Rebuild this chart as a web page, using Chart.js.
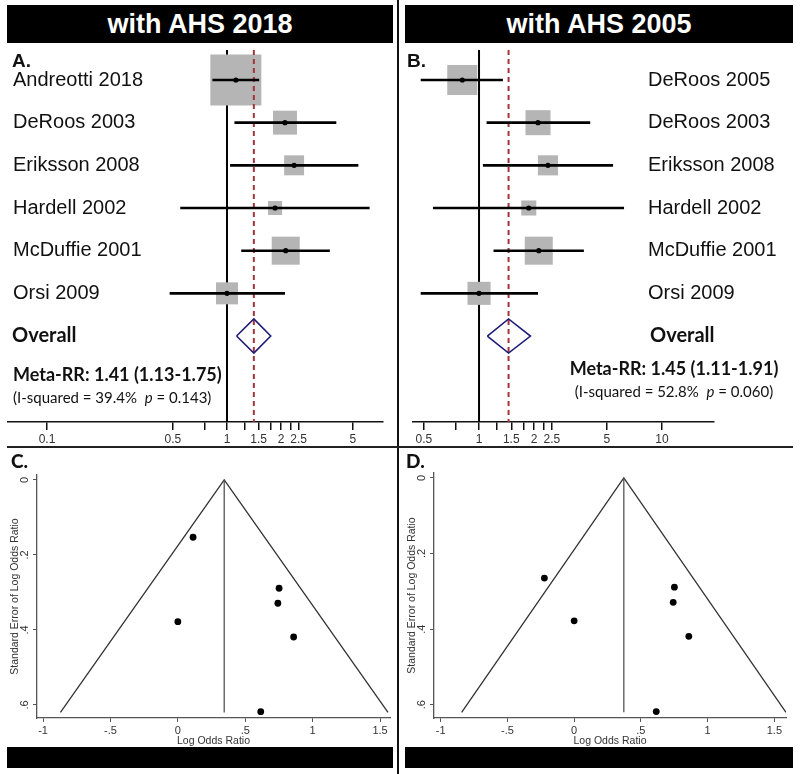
<!DOCTYPE html>
<html><head><meta charset="utf-8">
<script src="https://cdn.jsdelivr.net/npm/chart.js@4.4.1/dist/chart.umd.min.js"></script>
<style>
html,body{margin:0;padding:0;background:#fff;}
body{width:800px;height:774px;position:relative;overflow:hidden;font-family:'Liberation Sans',Arial,sans-serif;}
.abs{position:absolute;}
.hdr{background:#000;color:#fff;font-weight:bold;font-size:27px;text-align:center;line-height:38px;height:38px;top:5px;}
.bar{background:#000;height:21px;top:747px;}
.let1{font-weight:bold;font-size:19px;color:#111;}
.let2{font-family:Lato,'Open Sans',sans-serif;font-weight:900;font-size:19px;color:#111;}
canvas{position:absolute;}
</style>
</head><body>
<div class="abs hdr" style="left:7px;width:386px;">with AHS 2018</div>
<div class="abs hdr" style="left:405px;width:388px;">with AHS 2005</div>
<div class="abs" style="left:397px;top:0;width:2px;height:774px;background:#111;"></div>
<div class="abs" style="left:7px;top:446px;width:786px;height:2px;background:#222;"></div>
<div class="abs bar" style="left:7px;width:386px;"></div>
<div class="abs bar" style="left:405px;width:388px;"></div>

<canvas id="cA" width="390" height="403" style="left:7px;top:43px;"></canvas>
<canvas id="cB" width="397" height="403" style="left:400px;top:43px;"></canvas>
<canvas id="cC" width="397" height="299" style="left:0px;top:448px;"></canvas>
<canvas id="cD" width="400" height="299" style="left:400px;top:448px;"></canvas>

<div class="abs let1" style="left:12px;top:50px;">A.</div>
<div class="abs let1" style="left:407px;top:50px;">B.</div>
<div class="abs let2" style="left:11px;top:449px;">C.</div>
<div class="abs let2" style="left:406px;top:449px;">D.</div>

<script>
// ---------------- Panel A data (with AHS 2018) ----------------
const studiesA = ['Andreotti 2018','DeRoos 2003','Eriksson 2008','Hardell 2002','McDuffie 2001','Orsi 2009'];
const rrA      = [1.12, 2.10, 2.36, 1.85, 2.12, 1.00];
const lowerA   = [0.83, 1.10, 1.04, 0.55, 1.20, 0.48];
const upperA   = [1.51, 4.05, 5.37, 6.20, 3.73, 2.10];
const weightA  = [51.6, 11.4, 7.9, 3.9, 15.6, 9.6];
const pooledA  = [1.41, 1.13, 1.75];
const iSquaredA = '39.4%';
const pHetA     = '0.143';
const ticksA      = [0.1, 0.5, 0.75, 1, 1.25, 1.5, 1.75, 2, 2.25, 2.5, 5];
const tickLabelsA = ['0.1','0.5','','1','','1.5','','2','','2.5','5'];

// ---------------- Panel B data (with AHS 2005) ----------------
const studiesB = ['DeRoos 2005','DeRoos 2003','Eriksson 2008','Hardell 2002','McDuffie 2001','Orsi 2009'];
const rrB      = [0.81, 2.10, 2.38, 1.87, 2.12, 1.00];
const lowerB   = [0.48, 1.10, 1.05, 0.56, 1.20, 0.48];
const upperB   = [1.35, 4.05, 5.40, 6.20, 3.74, 2.10];
const weightB  = [26.0, 18.0, 11.6, 6.5, 22.6, 15.3];
const pooledB  = [1.45, 1.11, 1.91];
const iSquaredB = '52.8%';
const pHetB     = '0.060';
const ticksB      = [0.5, 0.75, 1, 1.25, 1.5, 1.75, 2, 2.25, 2.5, 5, 10];
const tickLabelsB = ['0.5','','1','','1.5','','2','','2.5','5','10'];

// ---------------- Funnel C (with AHS 2018) ----------------
const funnelC_logOR = [0.113, 0.742, 0.859, 0.615, 0.751, 0.000];
const funnelC_se    = [0.153, 0.329, 0.419, 0.618, 0.289, 0.378];
const funnelC_limX  = [-0.871, 0.344, 1.559];
const funnelC_limY  = [0.62, 0, 0.62];
// ---------------- Funnel D (with AHS 2005) ----------------
const funnelD_logOR = [-0.223, 0.742, 0.859, 0.615, 0.751, 0.000];
const funnelD_se    = [0.265, 0.329, 0.419, 0.618, 0.289, 0.378];
const funnelD_limX  = [-0.843, 0.372, 1.587];
const funnelD_limY  = [0.62, 0, 0.62];
const funnelTicksX  = [-1, -0.5, 0, 0.5, 1, 1.5];
const funnelLabelsX = ['-1','-.5','0','.5','1','1.5'];
const funnelTicksY  = [0, 0.2, 0.4, 0.6];
const funnelLabelsY = ['0','.2','.4','.6'];

const LABEL_FONT = '"Liberation Sans", Arial, sans-serif';
const BOLD2 = 'Lato, "Open Sans", sans-serif';

function drawRuns(ctx, parts, x, y, align) {
  const widths = parts.map(p => { ctx.font = p.f; return ctx.measureText(p.t).width; });
  const total = widths.reduce((a, b) => a + b, 0);
  let cx = align === 'center' ? x - total / 2 : x;
  ctx.textAlign = 'left';
  parts.forEach((p, i) => { ctx.font = p.f; ctx.fillText(p.t, cx, y); cx += widths[i]; });
}

function forestChart(id, d, layout) {
  const yMin = -0.703, yMax = 8.015;
  const n = d.labels.length;
  const datasets = [];
  datasets.push({ data: [{x: 1, y: yMin}, {x: 1, y: yMax}], showLine: true, borderColor: '#000',
    borderWidth: 2, pointRadius: 0, order: 10 });
  datasets.push({ data: d.rr.map((v, i) => ({x: v, y: i})), pointStyle: 'rect',
    pointRadius: c => layout.boxScale * Math.sqrt(d.w[c.dataIndex] / 100) / Math.SQRT2,
    backgroundColor: '#b5b5b5', borderWidth: 0, order: 9 });
  datasets.push({ data: [{x: d.pooled[0], y: yMin}, {x: d.pooled[0], y: yMax}], showLine: true,
    borderColor: '#a3343c', borderWidth: 2, borderDash: [5, 4], pointRadius: 0, order: 8 });
  d.rr.forEach((v, i) => {
    datasets.push({ data: [{x: d.lo[i], y: i}, {x: d.hi[i], y: i}], showLine: true, borderColor: '#000',
      borderWidth: 2.6, pointRadius: 0, order: 5 });
  });
  const h = 0.4;
  datasets.push({ data: [{x: d.pooled[1], y: n}, {x: d.pooled[0], y: n - h}, {x: d.pooled[2], y: n},
      {x: d.pooled[0], y: n + h}, {x: d.pooled[1], y: n}], showLine: true, borderColor: '#1d1d78',
    borderWidth: 1.6, pointRadius: 0, order: 6 });
  datasets.push({ data: d.rr.map((v, i) => ({x: v, y: i})), pointRadius: 2.6, backgroundColor: '#000',
    borderWidth: 0, order: 1 });

  const txt = {
    id: 'forestText',
    afterDraw(chart) {
      const ctx = chart.ctx, ys = chart.scales.y;
      ctx.save();
      ctx.fillStyle = '#111';
      ctx.textBaseline = 'middle';
      ctx.textAlign = 'left';
      ctx.font = '20px ' + LABEL_FONT;
      d.labels.forEach((t, i) => ctx.fillText(t, layout.labelX, ys.getPixelForValue(i)));
      ctx.font = 'bold 20px ' + BOLD2;
      ctx.fillText('Overall', layout.overallX, ys.getPixelForValue(n));
      const meta = 'Meta-RR: ' + d.pooled[0].toFixed(2) + ' (' + d.pooled[1].toFixed(2) + '-' + d.pooled[2].toFixed(2) + ')';
      drawRuns(ctx, [{t: meta, f: 'bold 18px ' + BOLD2}], layout.metaX, ys.getPixelForValue(layout.metaRow), layout.metaAlign);
      drawRuns(ctx, [
        {t: '(I-squared = ' + d.isq + '  ', f: '15px ' + BOLD2},
        {t: 'p', f: 'italic 15px ' + BOLD2},
        {t: ' = ' + d.p + ')', f: '15px ' + BOLD2}
      ], layout.metaX, ys.getPixelForValue(layout.isqRow), layout.metaAlign);
      ctx.restore();
    }
  };

  return new Chart(document.getElementById(id), {
    type: 'scatter',
    data: { datasets },
    plugins: [txt],
    options: {
      responsive: false, animation: false,
      layout: { padding: layout.padding, autoPadding: false },
      plugins: { legend: { display: false }, tooltip: { enabled: false } },
      elements: { line: { tension: 0 } },
      scales: {
        x: {
          type: 'logarithmic', min: layout.xMin, max: layout.xMax,
          afterBuildTicks: s => { s.ticks = d.ticks.map(v => ({value: v})); },
          afterFit: s => { s.height = 24; },
          ticks: { autoSkip: false, maxRotation: 0, padding: 2, color: '#333',
            font: { family: LABEL_FONT, size: 12 },
            callback: (v, i) => d.tickLabels[i] },
          grid: { display: true, drawOnChartArea: false, drawTicks: true, tickLength: 8, color: '#111', lineWidth: 1.5 },
          border: { display: true, color: '#111', width: 1.6 }
        },
        y: { type: 'linear', display: false, min: yMin, max: yMax, reverse: true }
      }
    }
  });
}

function funnelChart(id, f, layout) {
  const datasets = [
    { data: f.limX.map((v, i) => ({x: v, y: f.limY[i]})), showLine: true, borderColor: '#333',
      borderWidth: 1.3, pointRadius: 0, order: 3 },
    { data: [{x: f.limX[1], y: f.limY[1]}, {x: f.limX[1], y: f.limY[0]}], showLine: true,
      borderColor: '#555', borderWidth: 1.3, pointRadius: 0, order: 2 },
    { data: f.x.map((v, i) => ({x: v, y: f.se[i]})), pointRadius: 3.4, backgroundColor: '#000',
      borderWidth: 0, order: 1 }
  ];
  return new Chart(document.getElementById(id), {
    type: 'scatter',
    data: { datasets },
    options: {
      responsive: false, animation: false,
      layout: { padding: layout.padding, autoPadding: false },
      plugins: { legend: { display: false }, tooltip: { enabled: false } },
      elements: { line: { tension: 0 } },
      scales: {
        x: {
          type: 'linear', min: layout.xMin, max: layout.xMax,
          afterBuildTicks: s => { s.ticks = funnelTicksX.map(v => ({value: v})); },
          afterFit: s => { s.height = 29; },
          ticks: { autoSkip: false, maxRotation: 0, padding: 2, color: '#333',
            font: { family: LABEL_FONT, size: 11 }, callback: (v, i) => funnelLabelsX[i] },
          grid: { display: true, drawOnChartArea: false, drawTicks: true, tickLength: 4, color: '#555', lineWidth: 1 },
          border: { display: true, color: '#555', width: 1.3 },
          title: { display: true, text: 'Log Odds Ratio', color: '#333', padding: {top: 0, bottom: 0},
            font: { family: LABEL_FONT, size: 10.5 } }
        },
        y: {
          type: 'linear', min: -0.013, max: 0.635, reverse: true,
          afterBuildTicks: s => { s.ticks = funnelTicksY.map(v => ({value: v})); },
          afterFit: s => { s.width = layout.yWidth; },
          ticks: { autoSkip: false, minRotation: 90, maxRotation: 90, crossAlign: 'center', padding: 3,
            color: '#333', font: { family: LABEL_FONT, size: 11 }, callback: (v, i) => funnelLabelsY[i] },
          grid: { display: true, drawOnChartArea: false, drawTicks: true, tickLength: 4, color: '#555', lineWidth: 1 },
          border: { display: true, color: '#555', width: 1.3 },
          title: { display: true, text: 'Standard Error of Log Odds Ratio', color: '#333',
            padding: {top: layout.titlePad, bottom: 0}, font: { family: LABEL_FONT, size: 10.5 } }
        }
      }
    }
  });
}

forestChart('cA',
  { labels: studiesA, rr: rrA, lo: lowerA, hi: upperA, w: weightA, pooled: pooledA,
    isq: iSquaredA, p: pHetA, ticks: ticksA, tickLabels: tickLabelsA },
  { xMin: 0.0607, xMax: 7.36, boxScale: 71, padding: {left: 1, right: 14, top: 7, bottom: 0},
    labelX: 6, overallX: 5, metaX: 6, metaAlign: 'left', metaRow: 6.91, isqRow: 7.45 });

forestChart('cB',
  { labels: studiesB, rr: rrB, lo: lowerB, hi: upperB, w: weightB, pooled: pooledB,
    isq: iSquaredB, p: pHetB, ticks: ticksB, tickLabels: tickLabelsB },
  { xMin: 0.4357, xMax: 19.23, boxScale: 59, padding: {left: 13, right: 83, top: 7, bottom: 0},
    labelX: 248, overallX: 250, metaX: 274, metaAlign: 'center', metaRow: 6.77, isqRow: 7.31 });

funnelChart('cC', { x: funnelC_logOR, se: funnelC_se, limX: funnelC_limX, limY: funnelC_limY },
  { xMin: -1.045, xMax: 1.574, yWidth: 37, titlePad: 9, padding: {left: 0, right: 7, top: 27, bottom: 0} });

funnelChart('cD', { x: funnelD_logOR, se: funnelD_se, limX: funnelD_limX, limY: funnelD_limY },
  { xMin: -1.05, xMax: 1.587, yWidth: 34, titlePad: 6, padding: {left: 0, right: 14, top: 25, bottom: 0} });
</script>
</body></html>
